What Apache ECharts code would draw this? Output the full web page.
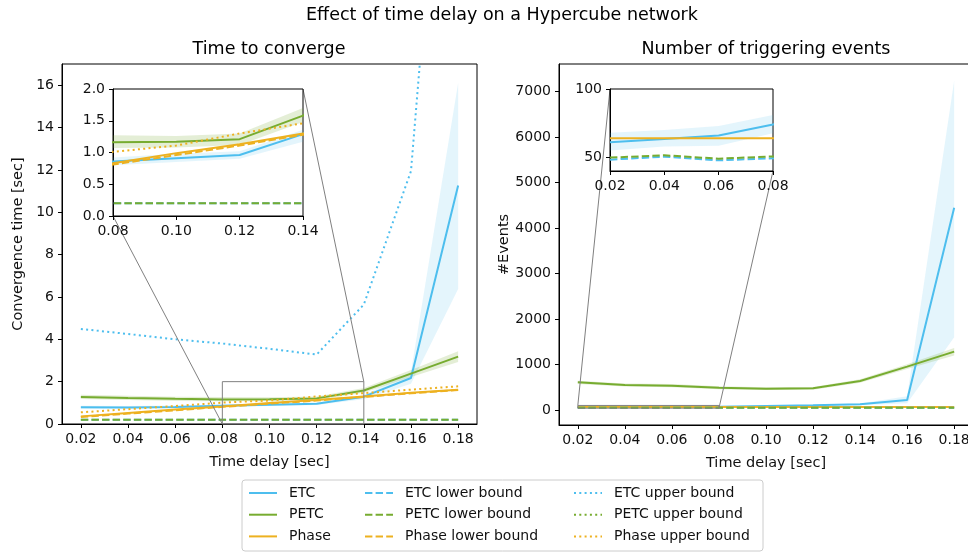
<!DOCTYPE html>
<html>
<head>
<meta charset="utf-8">
<script src="https://cdn.jsdelivr.net/npm/echarts@6/dist/echarts.min.js"></script>
<style>
  html, body { margin: 0; padding: 0; background: #fff; }
  #chart { width: 968px; height: 552px; }
</style>
</head>
<body>
<div id="chart"></div>
<script>
// ---- data -------------------------------------------------------------
const delays = [0.02, 0.04, 0.06, 0.08, 0.10, 0.12, 0.14, 0.16, 0.18];
const delayTicks = [0.02, 0.04, 0.06, 0.08, 0.10, 0.12, 0.14, 0.16, 0.18];

// Time to converge [sec]
const etcTime        = [0.79, 0.78, 0.80, 0.86, 0.91, 0.96, 1.29, 2.17, 11.26];
const etcTimeLow     = [0.72, 0.72, 0.74, 0.80, 0.85, 0.90, 1.17, 1.90, 6.38];
const etcTimeHigh    = [0.86, 0.85, 0.87, 0.92, 0.98, 1.02, 1.36, 2.45, 16.10];
const petcTime       = [1.28, 1.23, 1.19, 1.16, 1.17, 1.21, 1.58, 2.38, 3.18];
const petcTimeLow    = [1.18, 1.13, 1.09, 1.07, 1.08, 1.12, 1.48, 2.22, 2.93];
const petcTimeHigh   = [1.38, 1.33, 1.29, 1.27, 1.26, 1.30, 1.70, 2.55, 3.43];
const phaseTime      = [0.36, 0.52, 0.68, 0.83, 0.99, 1.13, 1.30, 1.47, 1.62];
const etcTimeLowerBound   = [0.20, 0.20, 0.20, 0.20, 0.20, 0.20, 0.20, 0.20, 0.20];
const petcTimeLowerBound  = [0.20, 0.20, 0.20, 0.20, 0.20, 0.20, 0.20, 0.20, 0.20];
const phaseTimeLowerBound = [0.33, 0.49, 0.65, 0.81, 0.96, 1.11, 1.28, 1.45, 1.61];
const etcTimeUpperBound   = [4.49, 4.25, 4.00, 3.80, 3.55, 3.28, 5.64, 11.94, 39.0];
const petcTimeUpperBound  = [];
const phaseTimeUpperBound = [0.55, 0.70, 0.85, 1.01, 1.11, 1.30, 1.46, 1.62, 1.78];

// Number of triggering events
const etcEvents       = [61, 63.5, 66, 74, 90, 105, 125, 220, 4450];
const etcEventsLow    = [55, 58, 58.5, 67.6, 80, 92, 105, 150, 1600];
const etcEventsHigh   = [68, 70, 73, 81, 100, 118, 145, 300, 7240];
const petcEvents      = [608, 550, 535, 490, 470, 477, 638, 953, 1283];
const petcEventsLow   = [570, 515, 500, 455, 440, 447, 600, 900, 1200];
const petcEventsHigh  = [645, 585, 570, 525, 500, 507, 676, 1006, 1366];
const phaseEvents     = [64, 64, 64, 64, 64, 64, 64, 64, 64];
const etcEventsLowerBound  = [48.3, 50.5, 47.8, 49.3, 49.0, 49.0, 49.0, 49.0, 49.0];
const petcEventsLowerBound = [49.8, 51.5, 49.0, 50.7, 50.5, 50.5, 50.5, 50.5, 50.5];

// axis ranges and ticks
const delayRange   = [0.012, 0.188];
const timeRange    = [0, 17];
const timeTicks    = [0, 2, 4, 6, 8, 10, 12, 14, 16];
const eventsRange  = [-330, 7610];
const eventsTicks  = [0, 1000, 2000, 3000, 4000, 5000, 6000, 7000];

// zoomed regions shown in the insets
const timeZoomX   = [0.08, 0.14];
const timeZoomY   = [0, 2];
const timeZoomXTicks = [0.08, 0.10, 0.12, 0.14];
const timeZoomYTicks = [0, 0.5, 1.0, 1.5, 2.0];
const eventsZoomX = [0.02, 0.08];
const eventsZoomY = [40, 100];
const eventsZoomXTicks = [0.02, 0.04, 0.06, 0.08];
const eventsZoomYTicks = [50, 100];

// ---- styling -----------------------------------------------------------
const FONT = 'DejaVu Sans';
const BLUE = '#4DBEEE', GREEN = '#77AC30', ORANGE = '#EDB120';
const LW = 2;
const SOLID = 'solid', DASHED = [7.4, 3.2], DOTTED = [2, 3.3];
const TEXT = '#111';

function valueAxis(gridIndex, range, ticks, digits, extra) {
  return Object.assign({
    type: 'value', gridIndex, min: range[0], max: range[1], scale: true,
    axisLine: { show: true, onZero: false, lineStyle: { color: '#000', width: 1 } },
    axisTick: { show: true, length: 4, customValues: ticks, lineStyle: { color: '#000', width: 1 } },
    axisLabel: {
      customValues: ticks, color: TEXT, fontSize: 14, fontFamily: FONT, margin: 8,
      formatter: v => Number(v).toFixed(digits)
    },
    splitLine: { show: false },
    nameTextStyle: { color: TEXT, fontSize: 14.5, fontFamily: FONT }
  }, extra || {});
}

function pairs(values) {
  return values.length ? delays.map((d, i) => [d, values[i]]) : [];
}

function lineSeries(name, values, color, dash, gi, zlevel) {
  return {
    type: 'line', name, xAxisIndex: gi, yAxisIndex: gi, data: pairs(values),
    symbol: 'none', showSymbol: false, clip: true, silent: true,
    lineStyle: { color, width: LW, type: dash }, itemStyle: { color },
    zlevel, z: 3
  };
}

// shaded spread between low and high, drawn as one polygon
function bandSeries(key, low, high, color, alpha, gi, zlevel) {
  return {
    type: 'custom', name: key + ' spread', xAxisIndex: gi, yAxisIndex: gi,
    data: delays.map((d, i) => [d, low[i], high[i]]),
    silent: true, zlevel, z: 2,
    renderItem: (params, api) => {
      if (params.dataIndex !== 0) return null;
      const lowerPts = delays.map((d, i) => api.coord([d, low[i]]));
      const upperPts = delays.map((d, i) => api.coord([d, high[i]])).reverse();
      const cs = params.coordSys;
      return {
        type: 'polygon',
        shape: { points: lowerPts.concat(upperPts) },
        clipPath: { type: 'rect', shape: { x: cs.x, y: cs.y, width: cs.width, height: cs.height } },
        style: { fill: color, opacity: alpha }
      };
    }
  };
}

function timeSeries(gi, zlevel) {
  return [
    bandSeries('ETC', etcTimeLow, etcTimeHigh, BLUE, 0.15, gi, zlevel),
    lineSeries('ETC', etcTime, BLUE, SOLID, gi, zlevel),
    bandSeries('PETC', petcTimeLow, petcTimeHigh, GREEN, 0.2, gi, zlevel),
    lineSeries('PETC', petcTime, GREEN, SOLID, gi, zlevel),
    lineSeries('Phase', phaseTime, ORANGE, SOLID, gi, zlevel),
    lineSeries('ETC lower bound', etcTimeLowerBound, BLUE, DASHED, gi, zlevel),
    lineSeries('PETC lower bound', petcTimeLowerBound, GREEN, DASHED, gi, zlevel),
    lineSeries('Phase lower bound', phaseTimeLowerBound, ORANGE, DASHED, gi, zlevel),
    lineSeries('ETC upper bound', etcTimeUpperBound, BLUE, DOTTED, gi, zlevel),
    lineSeries('PETC upper bound', petcTimeUpperBound, GREEN, DOTTED, gi, zlevel),
    lineSeries('Phase upper bound', phaseTimeUpperBound, ORANGE, DOTTED, gi, zlevel)
  ];
}

function eventsSeries(gi, zlevel) {
  return [
    bandSeries('ETC', etcEventsLow, etcEventsHigh, BLUE, 0.15, gi, zlevel),
    lineSeries('ETC', etcEvents, BLUE, SOLID, gi, zlevel),
    bandSeries('PETC', petcEventsLow, petcEventsHigh, GREEN, 0.2, gi, zlevel),
    lineSeries('PETC', petcEvents, GREEN, SOLID, gi, zlevel),
    lineSeries('Phase', phaseEvents, ORANGE, SOLID, gi, zlevel),
    lineSeries('ETC lower bound', etcEventsLowerBound, BLUE, DASHED, gi, zlevel),
    lineSeries('PETC lower bound', petcEventsLowerBound, GREEN, DASHED, gi, zlevel)
  ];
}

// outline of the zoomed region on the parent plot
function zoomFrame(xr, yr, gi) {
  return {
    type: 'line', name: 'zoom frame', xAxisIndex: gi, yAxisIndex: gi,
    data: [[xr[0], yr[0]], [xr[0], yr[1]], [xr[1], yr[1]], [xr[1], yr[0]], [xr[0], yr[0]]],
    symbol: 'none', clip: false, silent: true,
    lineStyle: { color: '#808080', width: 1 }, z: 4
  };
}

const gridBase = { show: true, borderColor: '#000', borderWidth: 1, outerBoundsMode: 'none', containLabel: false };
const titleStyle = { fontSize: 17.5, fontWeight: 'normal', fontFamily: FONT, color: '#000' };
const legendBase = {
  orient: 'vertical', itemWidth: 28, itemHeight: 14, itemGap: 7.7, top: 486,
  selectedMode: false, padding: 0,
  itemStyle: { opacity: 0 },
  textStyle: { fontSize: 14, fontFamily: FONT, color: TEXT, padding: [0, 0, 0, 7] }
};

const chart = echarts.init(document.getElementById('chart'), null, { renderer: 'canvas' });

chart.setOption({
  animation: false,
  backgroundColor: '#fff',
  title: [
    { text: 'Effect of time delay on a Hypercube network', left: 502, top: 6, textAlign: 'center', padding: 0, textStyle: titleStyle },
    { text: 'Time to converge', left: 269, top: 40, textAlign: 'center', padding: 0, textStyle: titleStyle },
    { text: 'Number of triggering events', left: 766, top: 40, textAlign: 'center', padding: 0, textStyle: titleStyle }
  ],
  grid: [
    Object.assign({}, gridBase, { left: 62, top: 64, width: 415, height: 360, backgroundColor: 'transparent' }),
    Object.assign({}, gridBase, { left: 113, top: 89, width: 190, height: 127, backgroundColor: '#fff', zlevel: 1 }),
    Object.assign({}, gridBase, { left: 559, top: 64, width: 414, height: 361, backgroundColor: 'transparent' }),
    Object.assign({}, gridBase, { left: 610, top: 89, width: 163, height: 82, backgroundColor: '#fff', zlevel: 1 })
  ],
  xAxis: [
    valueAxis(0, delayRange, delayTicks, 2, { name: 'Time delay [sec]', nameLocation: 'middle', nameGap: 31 }),
    valueAxis(1, timeZoomX, timeZoomXTicks, 2, { zlevel: 1 }),
    valueAxis(2, delayRange, delayTicks, 2, { name: 'Time delay [sec]', nameLocation: 'middle', nameGap: 31 }),
    valueAxis(3, eventsZoomX, eventsZoomXTicks, 2, { zlevel: 1 })
  ],
  yAxis: [
    valueAxis(0, timeRange, timeTicks, 0, { name: 'Convergence time [sec]', nameLocation: 'middle', nameRotate: 90, nameGap: 36 }),
    valueAxis(1, timeZoomY, timeZoomYTicks, 1, { zlevel: 1 }),
    valueAxis(2, eventsRange, eventsTicks, 0, { name: '#Events', nameLocation: 'middle', nameRotate: 90, nameGap: 42 }),
    valueAxis(3, eventsZoomY, eventsZoomYTicks, 0, { zlevel: 1 })
  ],
  legend: [
    Object.assign({}, legendBase, { left: 248, data: ['ETC', 'PETC', 'Phase'] }),
    Object.assign({}, legendBase, { left: 364, data: ['ETC lower bound', 'PETC lower bound', 'Phase lower bound'] }),
    Object.assign({}, legendBase, { left: 573, data: ['ETC upper bound', 'PETC upper bound', 'Phase upper bound'] })
  ],
  graphic: [
    { id: 'legendFrame', type: 'rect', z: 0, shape: { x: 242, y: 480, width: 521, height: 71, r: 3 },
      style: { fill: '#fff', stroke: '#cccccc', lineWidth: 1 } }
  ],
  series: [
    ...timeSeries(0, 0),
    zoomFrame(timeZoomX, timeZoomY, 0),
    ...timeSeries(1, 1),
    ...eventsSeries(2, 0),
    zoomFrame(eventsZoomX, eventsZoomY, 2),
    ...eventsSeries(3, 1)
  ]
});

// connector lines from the inset corners to the zoomed region
function connector(id, insetGrid, parentGrid, insetPt, parentPt) {
  const a = chart.convertToPixel({ gridIndex: insetGrid }, insetPt);
  const b = chart.convertToPixel({ gridIndex: parentGrid }, parentPt);
  return { id, type: 'line', z: 10, silent: true,
    shape: { x1: a[0], y1: a[1], x2: b[0], y2: b[1] },
    style: { stroke: '#808080', lineWidth: 1 } };
}

chart.setOption({
  graphic: [
    connector('timeLinkA', 1, 0, [timeZoomX[0], timeZoomY[0]], [timeZoomX[0], timeZoomY[0]]),
    connector('timeLinkB', 1, 0, [timeZoomX[1], timeZoomY[1]], [timeZoomX[1], timeZoomY[1]]),
    connector('eventsLinkA', 3, 2, [eventsZoomX[0], eventsZoomY[1]], [eventsZoomX[0], eventsZoomY[1]]),
    connector('eventsLinkB', 3, 2, [eventsZoomX[1], eventsZoomY[0]], [eventsZoomX[1], eventsZoomY[0]])
  ]
});
</script>
</body>
</html>
